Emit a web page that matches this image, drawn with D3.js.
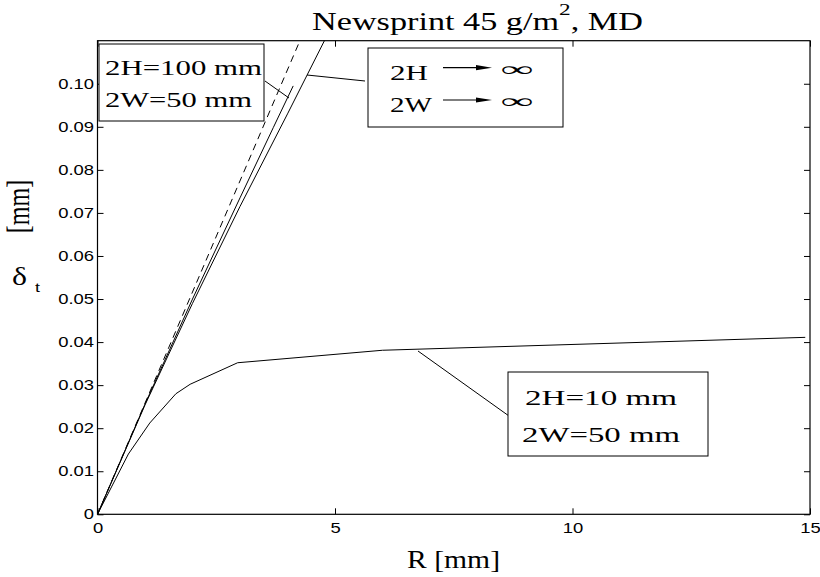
<!DOCTYPE html>
<html><head><meta charset="utf-8">
<script src="https://cdn.jsdelivr.net/npm/d3@7"></script>
<style>html,body{margin:0;padding:0;background:#fff;} svg{display:block}</style>
</head><body>
<svg id="chart" width="820" height="577"></svg>
<script>
// Tip deflection δt [mm] against crack-tip radius R [mm], newsprint 45 g/m², MD
const rInfinite = [0, 1, 2, 3, 4, 4.8];
const dInfinite = [0, 0.0254, 0.0490, 0.0715, 0.0930, 0.1105];
const rH100 = [0, 1, 2, 3, 3.7, 4.12];
const dH100 = [0, 0.0256, 0.0500, 0.0735, 0.0898, 0.0995];
const rDashed = [0, 4.3];
const dDashed = [0, 0.1110];
const rH10 = [0, 0.65, 1.1, 1.65, 1.95, 2.95, 6.0, 14.9];
const dH10 = [0, 0.0140, 0.0212, 0.0280, 0.0302, 0.0352, 0.0381, 0.0411];

const xTicks = [0, 5, 10, 15];
const xTickLabels = ["0", "5", "10", "15"];
const yTicks = [0, 0.01, 0.02, 0.03, 0.04, 0.05, 0.06, 0.07, 0.08, 0.09, 0.10];
const yTickLabels = ["0", "0.01", "0.02", "0.03", "0.04", "0.05", "0.06", "0.07", "0.08", "0.09", "0.10"];

const svg = d3.select("#chart");
const L = 97.5, R = 810, T = 40.7, B = 514.3;
const x = d3.scaleLinear().domain([0, 15]).range([L, R]);
const y = d3.scaleLinear().domain([0, 0.11]).range([B, T]);

const SERIF = "'Liberation Serif', 'Times New Roman', serif";
const SANS = "'Liberation Sans', Arial, Helvetica, sans-serif";
const SX = 1.28; // horizontal widening of glyphs

svg.append("rect").attr("width", 820).attr("height", 577).attr("fill", "#fff");

svg.append("clipPath").attr("id", "plotClip")
  .append("rect").attr("x", L).attr("y", T).attr("width", R - L).attr("height", B - T);

// axes with inward ticks
function widen(sel) {
  sel.each(function () {
    const w = this.getComputedTextLength();
    d3.select(this).attr("textLength", w * SX).attr("lengthAdjust", "spacingAndGlyphs");
  });
}
const axB = svg.append("g").attr("transform", `translate(0,${B})`)
  .call(d3.axisBottom(x).tickValues(xTicks).tickFormat((d, i) => xTickLabels[i])
    .tickSizeInner(-6).tickSizeOuter(0).tickPadding(8));
const axL = svg.append("g").attr("transform", `translate(${L},0)`)
  .call(d3.axisLeft(y).tickValues(yTicks).tickFormat((d, i) => yTickLabels[i])
    .tickSizeInner(-6).tickSizeOuter(0).tickPadding(3.5));
const axT = svg.append("g").attr("transform", `translate(0,${T})`)
  .call(d3.axisTop(x).tickValues(xTicks).tickFormat("").tickSizeInner(-6).tickSizeOuter(0));
const axR = svg.append("g").attr("transform", `translate(${R},0)`)
  .call(d3.axisRight(y).tickValues(yTicks).tickFormat("").tickSizeInner(-6).tickSizeOuter(0));
[axB, axL, axT, axR].forEach(a => {
  a.select(".domain").remove();
  a.selectAll("line").attr("stroke", "#000").attr("stroke-width", 1);
  a.selectAll("text").attr("font-family", SANS).attr("font-size", 14.4).attr("fill", "#000");
});
widen(axB.selectAll("text"));
widen(axL.selectAll("text"));

svg.append("rect").attr("x", L).attr("y", T).attr("width", R - L).attr("height", B - T)
  .attr("fill", "none").attr("stroke", "#000").attr("stroke-width", 1.2);

// curves
const line = d3.line().x(d => x(d[0])).y(d => y(d[1]));
const plot = svg.append("g").attr("clip-path", "url(#plotClip)");
const series = [
  { r: rDashed, d: dDashed, dash: "7,5" },
  { r: rH100, d: dH100, dash: null },
  { r: rInfinite, d: dInfinite, dash: null },
  { r: rH10, d: dH10, dash: null }
];
series.forEach(s => {
  plot.append("path").datum(d3.zip(s.r, s.d)).attr("d", line)
    .attr("fill", "none").attr("stroke", "#000").attr("stroke-width", 1)
    .attr("stroke-dasharray", s.dash);
});

// text helper: width sets the rendered horizontal extent
function label(o) {
  const t = svg.append("text").attr("x", o.x).attr("y", o.y)
    .attr("font-family", o.family || SERIF).attr("font-size", o.size)
    .attr("text-anchor", o.anchor || "start").attr("fill", "#000").text(o.text);
  if (o.width) t.attr("textLength", o.width).attr("lengthAdjust", "spacingAndGlyphs");
  return t;
}

// title with superscript
const title = svg.append("text").attr("x", 312).attr("y", 30)
  .attr("font-family", SERIF).attr("font-size", 25).attr("fill", "#000")
  .attr("textLength", 331).attr("lengthAdjust", "spacingAndGlyphs");
title.append("tspan").text("Newsprint 45 g/m");
title.append("tspan").attr("font-size", 17).attr("dy", -15).text("2");
title.append("tspan").attr("dy", 15).text(", MD");

// axis labels
label({ x: 407, y: 568, text: "R [mm]", size: 25, width: 93 });
label({ x: 12, y: 285, text: "δ", size: 26, width: 15 });
label({ x: 35, y: 292, text: "t", size: 13, family: SANS, width: 5 });
svg.append("text")
  .attr("transform", `translate(29,206.5) scale(${SX},1) rotate(-90)`)
  .attr("text-anchor", "middle").attr("font-family", SERIF).attr("font-size", 24)
  .attr("fill", "#000").text("[mm]");

// annotation boxes
function box(x0, y0, x1, y1) {
  svg.append("rect").attr("x", x0).attr("y", y0).attr("width", x1 - x0).attr("height", y1 - y0)
    .attr("fill", "#fff").attr("stroke", "#000").attr("stroke-width", 1);
}
function leader(x0, y0, x1, y1) {
  svg.append("line").attr("x1", x0).attr("y1", y0).attr("x2", x1).attr("y2", y1)
    .attr("stroke", "#000").attr("stroke-width", 1);
}
leader(265, 81, 289, 98);
leader(307, 75, 365, 81);
leader(418, 351, 509, 416);

box(99, 44, 264, 121);
label({ x: 105, y: 75, text: "2H=100 mm", size: 22, width: 157 });
label({ x: 105, y: 107, text: "2W=50 mm", size: 22, width: 147 });

box(368, 48, 563, 127);
label({ x: 390, y: 80, text: "2H", size: 22, width: 38 });
label({ x: 390, y: 112, text: "2W", size: 22, width: 42 });
function arrow(x0, x1, yy) {
  svg.append("line").attr("x1", x0).attr("y1", yy).attr("x2", x1 - 10).attr("y2", yy)
    .attr("stroke", "#000").attr("stroke-width", 1.2);
  svg.append("path").attr("d", `M${x1},${yy} L${x1 - 16},${yy - 2.6} L${x1 - 16},${yy + 2.6} Z`)
    .attr("fill", "#000");
}
arrow(443, 492, 67.7);
arrow(443, 492, 100);
label({ x: 500, y: 76, text: "∞", size: 20, width: 33 });
label({ x: 500, y: 108, text: "∞", size: 20, width: 33 });

box(508, 372, 708, 456);
label({ x: 525, y: 405, text: "2H=10 mm", size: 22, width: 152 });
label({ x: 522, y: 442, text: "2W=50 mm", size: 22, width: 158 });
</script>
</body></html>
